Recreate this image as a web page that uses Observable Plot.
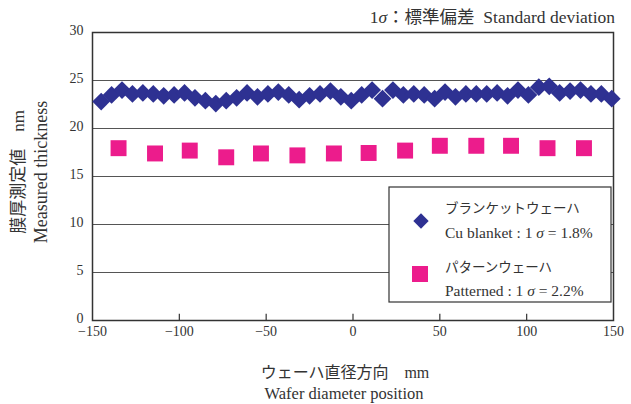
<!DOCTYPE html>
<html>
<head>
<meta charset="utf-8">
<script src="https://cdn.jsdelivr.net/npm/d3@7"></script>
<script src="https://cdn.jsdelivr.net/npm/@observablehq/plot@0.6"></script>
<style>
  html, body { margin: 0; padding: 0; background: #fff; }
  #chart svg { display: block; }
</style>
</head>
<body>
<div id="chart"></div>
<script>
// --- data ---
const blanketX = [-145,-139,-133,-127,-121,-115,-109,-103,-97,-91,-85,-79,-73,-67,-61,-55,-49,-43,-37,-31,-25,-19,-13,-7,-1,5,11,17,23,29,35,41,47,53,59,65,71,77,83,89,95,101,107,113,119,125,131,137,143,149];
const blanketY = [22.8,23.5,24.0,23.6,23.7,23.6,23.4,23.5,23.7,23.2,22.9,22.6,22.9,23.2,23.7,23.3,23.6,23.8,23.5,23.0,23.4,23.6,23.9,23.3,22.9,23.5,24.0,23.1,24.0,23.5,23.6,23.5,23.1,23.8,23.3,23.6,23.6,23.6,23.7,23.4,24.0,23.5,24.3,24.4,23.7,23.9,24.0,23.6,23.6,23.1];
const patternedX = [-135,-114,-94,-73,-53,-32,-11,9,30,50,71,91,112,133];
const patternedY = [17.95,17.4,17.7,17.0,17.4,17.2,17.4,17.45,17.7,18.2,18.2,18.2,17.95,17.95];
const xTicks = [-150,-100,-50,0,50,100,150];
const yTicks = [0,5,10,15,20,25,30];
const titleParts = ["1", "σ", "：標準偏差  Standard deviation"];
const yLabel1 = "膜厚測定値　nm";
const yLabel2 = "Measured thickness";
const xLabel1 = "ウェーハ直径方向　mm";
const xLabel2 = "Wafer diameter position";
const legendNames = ["ブランケットウェーハ", "パターンウェーハ"];
const legendSubs = [["Cu blanket : 1 ", "σ", " = 1.8%"], ["Patterned : 1 ", "σ", " = 2.2%"]];
const colors = ["#2e3192", "#ec1c8c"];

const blanket = blanketX.map((x, i) => ({x, y: blanketY[i]}));
const patterned = patternedX.map((x, i) => ({x, y: patternedY[i]}));

const FONT = "'Liberation Serif', 'DejaVu Serif', 'Noto Sans CJK JP', serif";

const plot = Plot.plot({
  width: 631, height: 404,
  marginLeft: 92, marginRight: 18, marginTop: 32, marginBottom: 84,
  style: {fontFamily: FONT, fontSize: "14px", color: "#333", background: "#fff"},
  x: {domain: [-150, 150], label: null},
  y: {domain: [0, 30], label: null},
  marks: [
    Plot.gridY(yTicks, {stroke: "#555", strokeOpacity: 1, strokeWidth: 1}),
    Plot.frame({stroke: "#333", strokeWidth: 1.5}),
    Plot.ruleX(xTicks.slice(1, -1), {y1: 0, y2: 0.65, stroke: "#333", strokeWidth: 1.2}),
    Plot.axisY(yTicks, {tickSize: 0, tickPadding: 9, fontSize: 14, fontFamily: FONT, fill: "#333", label: null, dy: -2}),
    Plot.axisX(xTicks, {tickSize: 0, tickPadding: 6, fontSize: 14, fontFamily: FONT, fill: "#333", label: null}),
    Plot.dot(blanket, {x: "x", y: "y", symbol: "diamond2", r: 8, fill: colors[0], stroke: null}),
    Plot.dot(patterned, {x: "x", y: "y", symbol: "square", r: 9, fill: colors[1], stroke: null})
  ]
});
document.getElementById("chart").append(plot);

const svg = d3.select(plot);
const txt = (x, y, size, anchor) => svg.append("text")
  .attr("x", x).attr("y", y)
  .attr("font-family", FONT).attr("font-size", size)
  .attr("fill", "#333").attr("text-anchor", anchor || "start");

// title
const t = txt(615, 23, 17.5, "end");
t.append("tspan").text(titleParts[0]);
t.append("tspan").attr("font-style", "italic").text(titleParts[1]);
t.append("tspan").text(titleParts[2]);

// y-axis labels
svg.append("text").attr("transform", "translate(24,172) rotate(-90)")
  .attr("font-family", FONT).attr("font-size", 17).attr("fill", "#333")
  .attr("text-anchor", "middle").text(yLabel1);
svg.append("text").attr("transform", "translate(47,172) rotate(-90)")
  .attr("font-family", FONT).attr("font-size", 18).attr("fill", "#333")
  .attr("text-anchor", "middle").text(yLabel2);

// x-axis labels
txt(345, 378, 16, "middle").text(xLabel1);
txt(344, 399, 16.5, "middle").text(xLabel2);

// legend
svg.append("rect").attr("x", 389).attr("y", 187).attr("width", 222).attr("height", 115)
  .attr("fill", "#fff").attr("stroke", "#333").attr("stroke-width", 1.2);
svg.append("path").attr("transform", "translate(421,221)")
  .attr("d", d3.symbol(d3.symbolDiamond2, 150)()).attr("fill", colors[0]);
svg.append("path").attr("transform", "translate(420,274)")
  .attr("d", d3.symbol(d3.symbolSquare, 256)()).attr("fill", colors[1]);
txt(445, 213, 13.5).text(legendNames[0]);
txt(445, 238, 15.5).call(s => legendSubs[0].forEach((p, i) => s.append("tspan").attr("font-style", i === 1 ? "italic" : null).text(p)));
txt(445, 272, 13.5).text(legendNames[1]);
txt(445, 296, 15.5).call(s => legendSubs[1].forEach((p, i) => s.append("tspan").attr("font-style", i === 1 ? "italic" : null).text(p)));
</script>
</body>
</html>
